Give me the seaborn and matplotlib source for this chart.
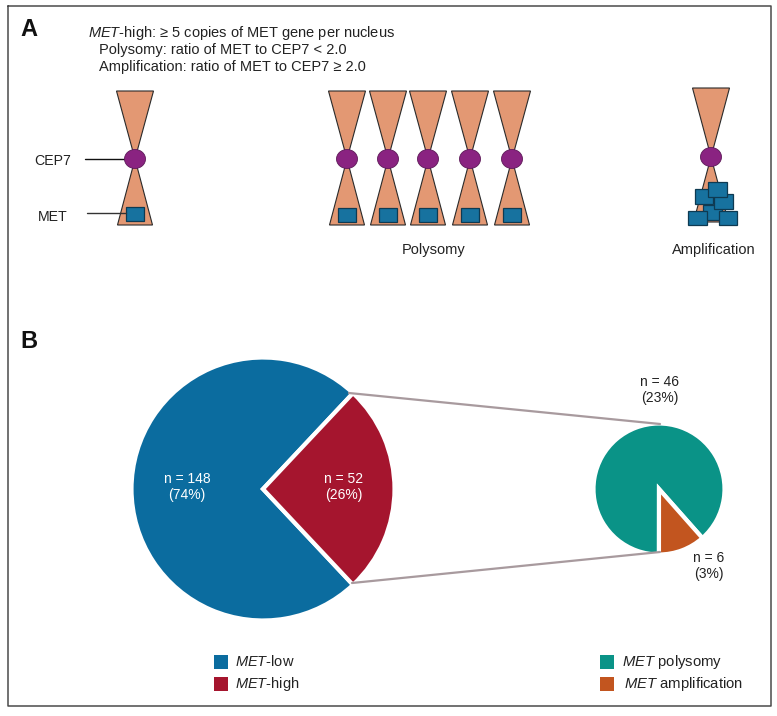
import matplotlib
matplotlib.use('Agg')
import matplotlib.pyplot as plt
import seaborn as sns
from matplotlib.patches import Polygon, Ellipse, Rectangle

sns.set_theme(style='white')
plt.rcParams['font.family'] = ['Liberation Sans', 'DejaVu Sans']
plt.rcParams['mathtext.fontset'] = 'custom'
plt.rcParams['mathtext.rm'] = 'Liberation Sans'
plt.rcParams['mathtext.it'] = 'Liberation Sans:italic'

# data
main_names = ['MET-high', 'MET-low']
main_counts = [52, 148]
split_names = ['MET amplification', 'MET polysomy']
split_counts = [6, 46]
total = 200
legend_left = [r'$\mathit{MET}$-low', r'$\mathit{MET}$-high']
legend_right = [r'$\mathit{MET}$ polysomy', r'$\mathit{MET}$ amplification']
header = [r'$\mathit{MET}$-high: ≥ 5 copies of MET gene per nucleus',
          'Polysomy: ratio of MET to CEP7 < 2.0',
          'Amplification: ratio of MET to CEP7 ≥ 2.0']

BLUE = '#0b6c9f'
RED = '#a5152e'
TEAL = '#0a9387'
ORANGE = '#c2551f'
TAN = '#e39873'
PURPLE = '#8a2381'
SQUARE = '#17729f'
INK = '#222222'
EDGE = '#2a2a2a'

fig = plt.figure(figsize=(7.77, 7.16), dpi=100, facecolor='white')
ax = fig.add_axes([0, 0, 1, 1])
ax.set_facecolor('white')


def chromosome(x, top=91, mid=159, base=225):
    ax.add_patch(Polygon([(x - 18.5, top), (x + 18.5, top), (x, mid)], fc=TAN, ec=EDGE, lw=0.8, zorder=2))
    ax.add_patch(Polygon([(x, mid), (x + 17.5, base), (x - 17.5, base)], fc=TAN, ec=EDGE, lw=0.8, zorder=2))
    ax.add_patch(Ellipse((x, mid), 21, 19, fc=PURPLE, ec='#5d1a58', lw=0.6, zorder=3))


def square(x0, y0, x1, y1):
    ax.add_patch(Rectangle((x0, y0), x1 - x0, y1 - y0, fc=SQUARE, ec='#0e3a52', lw=0.9, zorder=4))


# panel A
chromosome(135)
square(126, 207, 144, 221)
for x in [347, 388, 428, 470, 512]:
    chromosome(x)
    square(x - 9, 208, x + 9, 222)
chromosome(711, top=88, mid=157, base=222)
for box in [(703, 205, 722, 220), (688, 211, 707, 225), (719, 211, 737, 225),
            (714, 194, 733, 209), (695, 189, 713, 204), (708, 182, 727, 197)]:
    square(*box)
ax.plot([85, 125], [159, 159], color='#111111', lw=1, zorder=1)
ax.plot([87, 126], [213, 213], color='#333333', lw=1, zorder=5)

# connecting lines go on top of the white pie rim
ax.plot([349, 660], [393, 424], color='#a89a9e', lw=1.6, zorder=4)
ax.plot([352, 660], [583, 552], color='#a89a9e', lw=1.6, zorder=4)

# panel B, y axis runs downward so the pie angles are mirrored on screen
wedges, _ = ax.pie(main_counts, colors=[RED, BLUE], center=(263, 489), radius=131.5,
                   startangle=-46.8, wedgeprops={'edgecolor': 'white', 'linewidth': 3}, frame=True)
wedges[0].set_zorder(3)
wedges[1].set_zorder(2)
small, _ = ax.pie(split_counts, colors=[ORANGE, TEAL], center=(659, 489), radius=65.5,
                  startangle=48.5, wedgeprops={'edgecolor': 'white', 'linewidth': 3}, frame=True)
small[0].set_zorder(3)
small[1].set_zorder(2)

ax.set_xlim(0, 777)
ax.set_ylim(716, 0)
ax.set_xticks([])
ax.set_yticks([])
ax.axis('off')

# frame
ax.plot([8, 771, 771, 8, 8], [5.5, 5.5, 706, 706, 5.5], color='#4a4a4a', lw=1.1, zorder=1)

# legends
swatch = sns.color_palette([BLUE, RED, TEAL, ORANGE])
sw_x = [221, 221, 607, 607]
sw_y = [662, 684, 662, 684]
sns.scatterplot(x=sw_x, y=sw_y, hue=['a', 'b', 'c', 'd'], palette=swatch, marker='s', s=88,
                linewidth=0, legend=False, ax=ax, zorder=5)
ax.set_xlim(0, 777)
ax.set_ylim(716, 0)

fs = 10.5
for i, line in enumerate(header):
    ax.text(88 if i == 0 else 99, 33 + i * 17, line, fontsize=fs, color=INK, va='center')
ax.text(20, 30, 'A', fontsize=17, fontweight='bold', color='#111111', va='center')
ax.text(20, 342, 'B', fontsize=17, fontweight='bold', color='#111111', va='center')
ax.text(53, 161, 'CEP7', fontsize=fs - 0.3, color=INK, ha='center', va='center')
ax.text(53, 217, 'MET', fontsize=fs - 0.3, color=INK, ha='center', va='center')
ax.text(434, 250, 'Polysomy', fontsize=fs, color=INK, ha='center', va='center')
ax.text(714, 250, 'Amplification', fontsize=fs, color=INK, ha='center', va='center')


def count_label(x, y, n, color):
    ax.text(x, y, f'n = {n}\n({round(n / total * 100)}%)', fontsize=fs - 0.5, color=color,
            ha='center', va='center', linespacing=1.2, zorder=6)


count_label(187, 487, main_counts[1], 'white')
count_label(344, 487, main_counts[0], 'white')
count_label(660, 390, split_counts[1], INK)
count_label(709, 566, split_counts[0], INK)

for y, lab in zip([662, 684], legend_left):
    ax.text(235, y, lab, fontsize=fs, color=INK, va='center')
for x, y, lab in zip([622, 624], [662, 684], legend_right):
    ax.text(x, y, lab, fontsize=fs + 0.2, color=INK, va='center')

fig.savefig('out.png', dpi=100)
